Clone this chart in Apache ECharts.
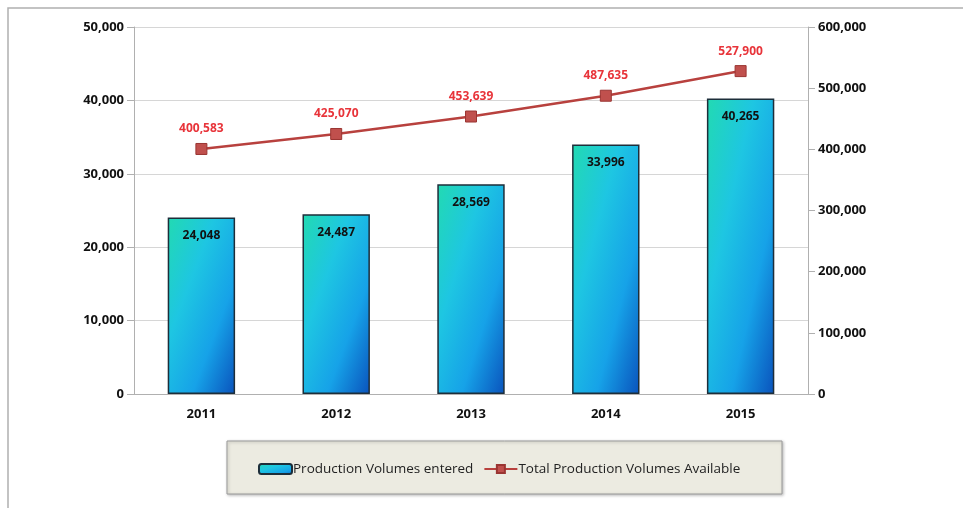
<!DOCTYPE html>
<html>
<head>
<meta charset="utf-8">
<script src="https://cdn.jsdelivr.net/npm/echarts@6/dist/echarts.min.js"></script>
<style>
  html, body { margin: 0; padding: 0; background: #ffffff; }
  #chart { width: 963px; height: 508px; }
</style>
</head>
<body>
<div id="chart"></div>
<script>
// Yearly production volumes
const years = ['2011', '2012', '2013', '2014', '2015'];
const volumesEntered = [24048, 24487, 28569, 33996, 40265];
const volumesAvailable = [400583, 425070, 453639, 487635, 527900];

const fmt = v => Number(v).toLocaleString('en-US');
const font = '"Open Sans", "DejaVu Sans", sans-serif';

const barStops = [
  { offset: 0, color: '#22dab2' },
  { offset: 0.35, color: '#1ec6e2' },
  { offset: 0.68, color: '#16a2e8' },
  { offset: 1, color: '#0a52bc' }
];

// Diagonal fill running from the top-left corner to the bottom-right corner
// of a w x h bar, with colour bands parallel to the other diagonal.
function barGradient(w, h) {
  const k = 2 / (1 / (w * w) + 1 / (h * h));
  return new echarts.graphic.LinearGradient(0, 0, k / (w * w), k / (h * h), barStops);
}

const chart = echarts.init(document.getElementById('chart'));

function option(barColors) {
  return {
    backgroundColor: '#ffffff',
    animation: false,
    textStyle: { fontFamily: font },
    graphic: [
      {
        type: 'rect',
        shape: { x: 8, y: 8, width: 1000, height: 600 },
        style: { fill: 'none', stroke: '#b0b0b0', lineWidth: 1.5 },
        silent: true
      },
      {
        type: 'rect',
        shape: { x: 227, y: 441, width: 555, height: 53 },
        style: {
          fill: '#ecebe1', stroke: '#9a9a9a', lineWidth: 1,
          shadowColor: 'rgba(0,0,0,0.25)', shadowBlur: 3, shadowOffsetX: 1, shadowOffsetY: 1
        },
        z: 0,
        silent: true
      }
    ],
    grid: { left: 134, right: 155, top: 27, bottom: 114 },
    legend: {
      left: 253, top: 457,
      itemGap: 10,
      itemWidth: 33, itemHeight: 10,
      textStyle: { fontSize: 13.5, color: '#222', fontFamily: font, padding: [0, 0, 0, -4] },
      data: [
        { name: 'Production Volumes entered', itemStyle: { color: barGradient(33, 10) } },
        'Total Production Volumes Available'
      ],
      z: 5
    },
    xAxis: {
      type: 'category',
      data: years,
      axisLine: { lineStyle: { color: '#b0b0b0' } },
      axisTick: { show: false },
      axisLabel: { fontWeight: 'bold', fontSize: 13, color: '#111', margin: 14 }
    },
    yAxis: [
      {
        type: 'value', min: 0, max: 50000, interval: 10000,
        axisLine: { show: true, lineStyle: { color: '#b0b0b0' } },
        axisTick: { show: true, length: 7, lineStyle: { color: '#b0b0b0' } },
        splitLine: { lineStyle: { color: '#d6d6d6' } },
        axisLabel: { formatter: fmt, fontWeight: 'bold', fontSize: 13, color: '#111', margin: 10 }
      },
      {
        type: 'value', min: 0, max: 600000, interval: 100000,
        position: 'right',
        axisLine: { show: true, lineStyle: { color: '#b0b0b0' } },
        axisTick: { show: true, length: 7, lineStyle: { color: '#b0b0b0' } },
        splitLine: { show: false },
        axisLabel: { formatter: fmt, fontWeight: 'bold', fontSize: 13, color: '#111', margin: 10 }
      }
    ],
    series: [
      {
        name: 'Production Volumes entered',
        type: 'bar',
        data: volumesEntered.map((v, i) => ({
          value: v,
          itemStyle: barColors ? { color: barColors[i] } : undefined
        })),
        barWidth: '50%',
        itemStyle: {
          color: barGradient(68, 300),
          borderColor: '#1d2e3a',
          borderWidth: 1.5
        },
        label: {
          show: true, position: 'insideTop', distance: 12,
          formatter: p => fmt(p.value),
          fontWeight: 'bold', fontSize: 12, color: '#111'
        }
      },
      {
        name: 'Total Production Volumes Available',
        type: 'line',
        yAxisIndex: 1,
        data: volumesAvailable,
        symbol: 'rect', symbolSize: 11,
        lineStyle: { color: '#b8413e', width: 2.5 },
        itemStyle: { color: '#c0504d', borderColor: '#9a3532', borderWidth: 1 },
        label: {
          show: true, position: 'top', distance: 8,
          formatter: p => fmt(p.value),
          fontWeight: 'bold', fontSize: 12, color: '#e8343a'
        }
      }
    ]
  };
}

chart.setOption(option(null));

// Size each bar's gradient to the bar's on-screen box.
const layouts = volumesEntered.map((v, i) =>
  chart.getModel().getSeriesByIndex(0).getData().getItemLayout(i));
const colors = layouts.map(l => barGradient(Math.abs(l.width), Math.abs(l.height)));
chart.setOption(option(colors));
</script>
</body>
</html>
